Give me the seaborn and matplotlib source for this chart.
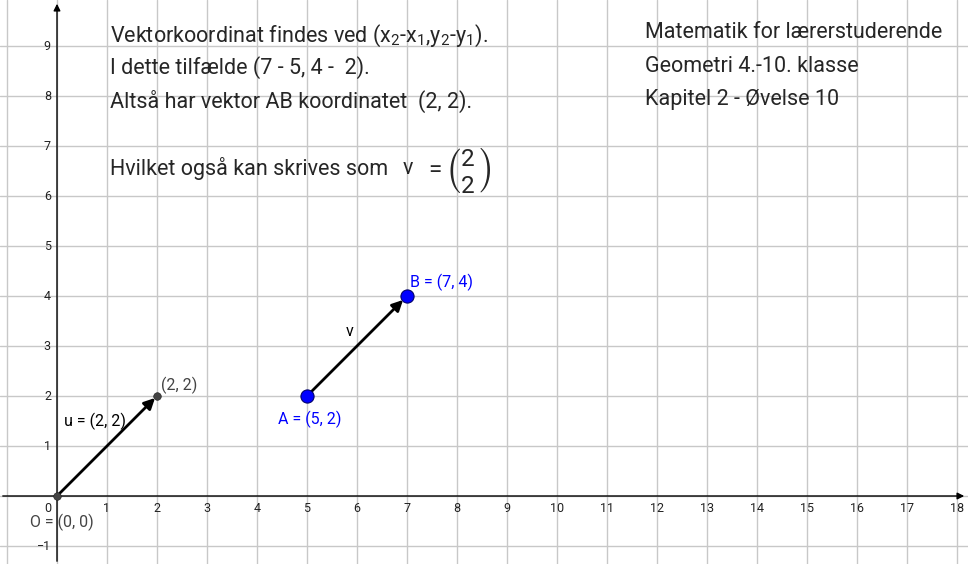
import matplotlib
matplotlib.use("Agg")
import matplotlib.pyplot as plt
import seaborn as sns

# Punkter og vektorer
punkt_navne = ["O", "U", "A", "B"]
punkt_x = [0, 2, 5, 7]
punkt_y = [0, 2, 2, 4]
x_ticks = list(range(1, 19))
y_ticks = [-1, 1, 2, 3, 4, 5, 6, 7, 8, 9]

sns.set_theme(style="white")
plt.rcParams['font.family'] = ['Roboto', 'DejaVu Sans']
plt.rcParams['mathtext.fontset'] = 'custom'
plt.rcParams['mathtext.rm'] = 'Roboto'
plt.rcParams['mathtext.it'] = 'Roboto'

fig = plt.figure(figsize=(9.68, 5.64), dpi=100)
ax = fig.add_axes([0, 0, 1, 1])
ax.set_xlim(-1.14, 18.22)
ax.set_ylim(-1.36, 9.92)
for s in ax.spines.values():
    s.set_visible(False)
ax.set_xticks([])
ax.set_yticks([])

# Gitter
for gx in range(-1, 19):
    ax.axvline(gx, color="#c8c8c8", lw=1, zorder=0)
for gy in range(-1, 10):
    ax.axhline(gy, color="#c8c8c8", lw=1, zorder=0)

# Akser
ax.annotate("", xy=(18.2, 0), xytext=(-1.14, 0),
            arrowprops=dict(arrowstyle="-|>", color="black", lw=1, mutation_scale=10))
ax.annotate("", xy=(0, 9.9), xytext=(0, -1.36),
            arrowprops=dict(arrowstyle="-|>", color="black", lw=1, mutation_scale=10))
for t in x_ticks:
    ax.text(t, -0.12, str(t), ha="center", va="top", fontsize=9, color="#222222")
for t in y_ticks:
    ax.text(-0.12, t, "\u2212" + str(-t) if t < 0 else str(t),
            ha="right", va="center", fontsize=9, color="#222222")
ax.text(-0.12, -0.12, "0", ha="right", va="top", fontsize=9, color="#222222")

# Vektorer
ax.annotate("", xy=(punkt_x[1], punkt_y[1]), xytext=(punkt_x[0], punkt_y[0]),
            arrowprops=dict(arrowstyle="-|>", color="black", lw=2, mutation_scale=16, shrinkA=0, shrinkB=2))
ax.annotate("", xy=(punkt_x[3], punkt_y[3]), xytext=(punkt_x[2], punkt_y[2]),
            arrowprops=dict(arrowstyle="-|>", color="black", lw=2, mutation_scale=16, shrinkA=0, shrinkB=4))

sns.scatterplot(x=punkt_x[:2], y=punkt_y[:2], ax=ax, s=30, color="#444444", edgecolor="#222222", zorder=5)
sns.scatterplot(x=punkt_x[2:], y=punkt_y[2:], ax=ax, s=90, color="#0000ff", edgecolor="#000066", zorder=5)

ax.text(0.1, -0.35, "O = (0, 0)", ha="center", va="top", fontsize=11.5, color="#444444")
ax.text(2.08, 2.05, "(2, 2)", ha="left", va="bottom", fontsize=11.5, color="#444444")
ax.text(0.15, 1.5, "u = (2, 2)", ha="left", va="center", fontsize=11.5, color="black")
ax.text(5.05, 1.7, "A = (5, 2)", ha="center", va="top", fontsize=11.5, color="#0000ff")
ax.text(7.05, 4.1, "B = (7, 4)", ha="left", va="bottom", fontsize=11.5, color="#0000ff")
ax.text(5.85, 3.3, "v", ha="center", va="center", fontsize=11.5, color="black")

# Forklarende tekst
fs = 15.5
ax.text(1.06, 9.2, "Vektorkoordinat findes ved (x$_2$-x$_1$,y$_2$-y$_1$).", fontsize=fs, va="center")
ax.text(1.06, 8.56, "I dette tilfælde (7 - 5, 4 -  2).", fontsize=fs, va="center")
ax.text(1.06, 7.9, "Altså har vektor AB koordinatet  (2, 2).", fontsize=fs, va="center")
ax.text(1.06, 6.56, "Hvilket også kan skrives som", fontsize=fs, va="center")
ax.text(6.92, 6.56, "v", fontsize=fs, va="center")
ax.text(7.35, 6.56, r"$=$", fontsize=fs + 2, va="center")
ax.text(7.75, 6.5, r"$\binom{2}{2}$", fontsize=25, va="center")

ax.text(11.76, 9.26, "Matematik for lærerstuderende", fontsize=fs, va="center")
ax.text(11.76, 8.58, "Geometri 4.-10. klasse", fontsize=fs, va="center")
ax.text(11.76, 7.94, "Kapitel 2 - Øvelse 10", fontsize=fs, va="center")

fig.savefig("out.png", dpi=100)
